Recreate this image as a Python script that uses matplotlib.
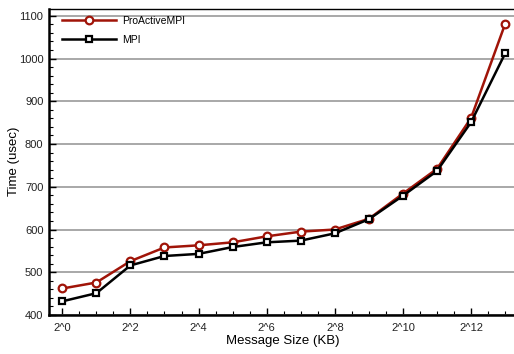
import matplotlib
matplotlib.use("Agg")
import matplotlib.pyplot as plt
from matplotlib.ticker import MultipleLocator

x_idx = list(range(14))
tick_pos = [0, 2, 4, 6, 8, 10, 12]
tick_labels = ["2^0", "2^2", "2^4", "2^6", "2^8", "2^10", "2^12"]
proactive = [462, 476, 526, 558, 563, 570, 584, 595, 600, 625, 684, 742, 861, 1081]
mpi = [432, 451, 516, 538, 543, 559, 570, 574, 591, 624, 679, 737, 851, 1012]

plt.rcParams['font.family'] = ['Liberation Sans', 'DejaVu Sans']

fig = plt.figure(figsize=(5.14, 3.54), dpi=100)
ax = fig.add_axes([49/514, 39/354, 1 - 49/514, (315 - 8.5)/354])

ax.plot(x_idx, proactive, color="#A01408", lw=1.8, marker="o", ms=5.5,
        mfc="white", mec="#A01408", mew=1.6, label="ProActiveMPI", zorder=3)
ax.plot(x_idx, mpi, color="black", lw=1.8, marker="s", ms=5,
        mfc="white", mec="black", mew=1.6, label="MPI", zorder=4)

ax.set_xlim(-0.39, 13.26)
ax.set_ylim(400, 1117)
ax.set_xticks(tick_pos)
ax.set_xticklabels(tick_labels)
ax.xaxis.set_minor_locator(MultipleLocator(0.5))
ax.yaxis.set_major_locator(MultipleLocator(100))
ax.yaxis.set_minor_locator(MultipleLocator(20))
ax.tick_params(axis="both", which="major", direction="in", length=5, width=1,
               labelsize=8, colors="black", labelcolor="#222222")
ax.tick_params(axis="both", which="minor", direction="in", length=3, width=0.8)
ax.tick_params(axis="x", pad=6)
ax.tick_params(axis="y", pad=4)
ax.grid(axis="y", which="major", color="#999999", lw=1.2)
ax.set_axisbelow(True)

ax.spines["right"].set_visible(False)
ax.spines["top"].set_linewidth(1.0)
ax.spines["left"].set_linewidth(1.8)
ax.spines["bottom"].set_linewidth(1.8)

ax.set_xlabel("Message Size (KB)", fontsize=9.5)
ax.set_ylabel("Time (usec)", fontsize=9.5)
ax.xaxis.set_label_coords((282.5 - 49) / 465, (315 - 341) / 306.5)
ax.yaxis.set_label_coords((14 - 49) / 465, (315 - 161) / 306.5)
for lab in (ax.xaxis.label, ax.yaxis.label):
    lab.set_verticalalignment("center")

leg = ax.legend(loc="upper left", frameon=False, fontsize=7.5,
                handlelength=5.2, handletextpad=0.6,
                bbox_to_anchor=(0.012, 1.0), borderaxespad=0.3,
                labelspacing=0.85)

fig.savefig("out.png", dpi=100)
